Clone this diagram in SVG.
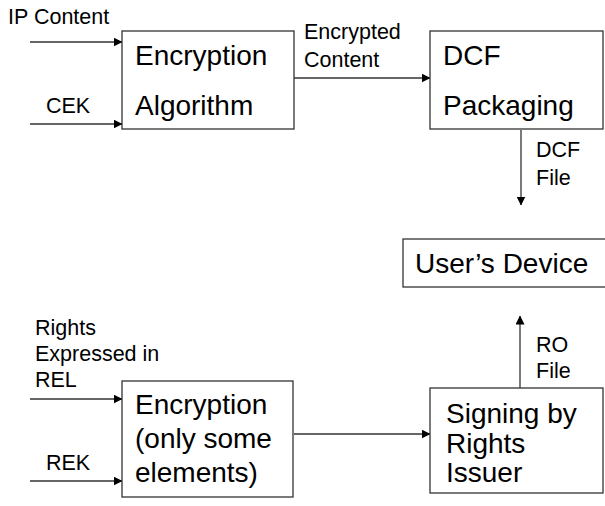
<svg xmlns="http://www.w3.org/2000/svg" width="605" height="506" viewBox="0 0 605 506">
<style>
.box{fill:#fff;stroke:#333;stroke-width:1.3}
.ln{fill:none;stroke:#333;stroke-width:1.3}
.s{font-family:"Liberation Sans",Arial,sans-serif;font-size:21.5px;fill:#000}
.b{font-family:"Liberation Sans",Arial,sans-serif;font-size:28px;fill:#000}
</style>
<defs>
<marker id="ah" markerWidth="9" markerHeight="9" refX="8.5" refY="4.5" orient="auto" markerUnits="userSpaceOnUse">
<path d="M0,0 L9,4.5 L0,9 Z" fill="#000"/>
</marker>
</defs>
<rect width="605" height="506" fill="#fff"/>
<g id="connectors">
<line class="ln" x1="30" y1="42" x2="122" y2="42" marker-end="url(#ah)"/>
<line class="ln" x1="30" y1="124" x2="122" y2="124" marker-end="url(#ah)"/>
<line class="ln" x1="294" y1="78" x2="430" y2="78" marker-end="url(#ah)"/>
<line class="ln" x1="521" y1="130" x2="521" y2="205" marker-end="url(#ah)"/>
<line class="ln" x1="30" y1="399" x2="122" y2="399" marker-end="url(#ah)"/>
<line class="ln" x1="30" y1="481" x2="122" y2="481" marker-end="url(#ah)"/>
<line class="ln" x1="294" y1="434" x2="430" y2="434" marker-end="url(#ah)"/>
<line class="ln" x1="520" y1="388" x2="520" y2="316" marker-end="url(#ah)"/>
<text class="s" x="8" y="24">IP Content</text>
<text class="s" x="46" y="113">CEK</text>
<text class="s" x="304" y="39">Encrypted</text>
<text class="s" x="304" y="67">Content</text>
<text class="s" x="536" y="157">DCF</text>
<text class="s" x="536" y="185">File</text>
<text class="s" x="35" y="335">Rights</text>
<text class="s" x="35" y="361">Expressed in</text>
<text class="s" x="35" y="387">REL</text>
<text class="s" x="46" y="470">REK</text>
<text class="s" x="536" y="352">RO</text>
<text class="s" x="536" y="378">File</text>
</g>
<g id="enc-alg">
<rect class="box" x="122" y="31" width="172" height="98"/>
<text class="b" x="135" y="65">Encryption</text>
<text class="b" x="135" y="115">Algorithm</text>
</g>
<g id="dcf-pack">
<rect class="box" x="430" y="31" width="173" height="98"/>
<text class="b" x="443" y="65">DCF</text>
<text class="b" x="443" y="115">Packaging</text>
</g>
<g id="user-device">
<rect class="box" x="403" y="239" width="210" height="48"/>
<text class="b" x="415" y="273">User’s Device</text>
</g>
<g id="enc-rights">
<rect class="box" x="122" y="381" width="171" height="116"/>
<text class="b" x="135" y="414">Encryption</text>
<text class="b" x="135" y="448">(only some</text>
<text class="b" x="135" y="482">elements)</text>
</g>
<g id="signing">
<rect class="box" x="430" y="388" width="173" height="105"/>
<text class="b" x="446" y="423">Signing by</text>
<text class="b" x="446" y="453">Rights</text>
<text class="b" x="446" y="482">Issuer</text>
</g>
</svg>
